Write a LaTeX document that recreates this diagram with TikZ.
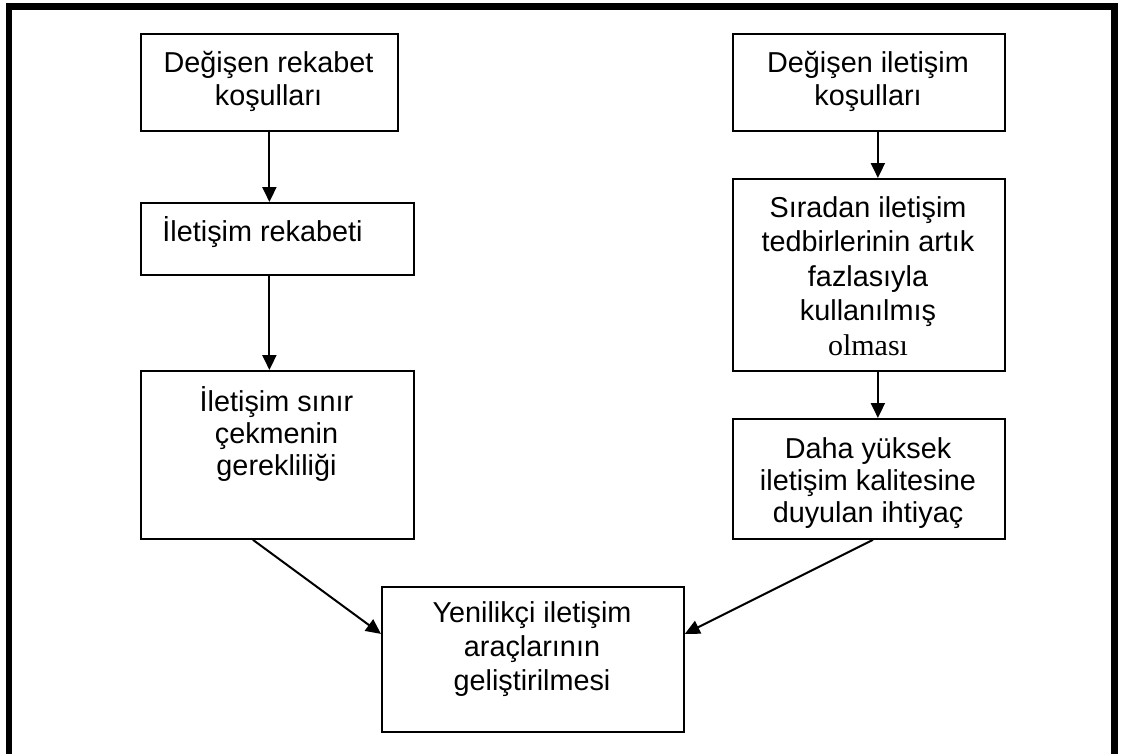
\documentclass[tikz,border=0pt]{standalone}
\usepackage{fontspec}
\setmainfont{Liberation Sans}
\newfontfamily\serifface{Liberation Serif}
\usetikzlibrary{arrows.meta}
\begin{document}
\begin{tikzpicture}[x=1pt,y=-1pt,
  boxnode/.style={draw=black,line width=1.8pt,rectangle,inner sep=0pt,anchor=north west},
  txt/.style={align=center,inner sep=0pt,font=\fontsize{28.8}{33}\selectfont},
  conn/.style={line width=2pt,-{Triangle[length=15pt,width=14pt]}}]
\useasboundingbox (0,0) rectangle (1121,753);
% outer frame
\draw[line width=6.5pt] (9,800) -- (9,6.5) -- (1114.5,6.5) -- (1114.5,800);
% boxes
\node[boxnode,minimum width=257pt,minimum height=97pt] (b1) at (140,33) {};
\node[boxnode,minimum width=273pt,minimum height=72pt] (b2) at (140,202) {};
\node[boxnode,minimum width=273pt,minimum height=168pt] (b3) at (140,370) {};
\node[boxnode,minimum width=272pt,minimum height=97pt] (r1) at (732,33) {};
\node[boxnode,minimum width=272pt,minimum height=192pt] (r2) at (732,178) {};
\node[boxnode,minimum width=272pt,minimum height=120pt] (r3) at (732,418) {};
\node[boxnode,minimum width=302pt,minimum height=145pt] (bb) at (381,586) {};
% texts
\node[txt] (t1) at (268.5,81) {Değişen rekabet\\koşulları};
\node[txt] (t2) at (262.5,232) {İletişim rekabeti};
\node[txt,font=\fontsize{28.8}{32}\selectfont] (t3) at (276.5,434) {İletişim sınır\\çekmenin\\gerekliliği};
\node[txt] (tr1) at (868,81) {Değişen iletişim\\koşulları};
\node[txt,font=\fontsize{28.8}{34.5}\selectfont] (tr2) at (868,276) {Sıradan iletişim\\tedbirlerinin artık\\fazlasıyla\\kullanılmış\\{\serifface\fontsize{30}{34.5}\selectfont olması}};
\node[txt,font=\fontsize{28.8}{32}\selectfont] (tr3) at (868,483) {Daha yüksek\\iletişim kalitesine\\duyulan ihtiyaç};
\node[txt,font=\fontsize{28.8}{34}\selectfont] (tb) at (532,649) {Yenilikçi iletişim\\araçlarının\\geliştirilmesi};
% connectors
\draw[conn] (b1.south) -- (b1.south |- b2.north);
\draw[conn] (b1.south |- b2.south) -- (b1.south |- b3.north);
\draw[conn] ([xshift=9pt]r1.south) -- ([xshift=9pt]r2.north);
\draw[conn] ([xshift=9pt]r2.south) -- ([xshift=9pt]r3.north);
\draw[conn] ([xshift=-24.5pt]b3.south) -- ([yshift=25.5pt]bb.west);
\draw[conn] ([xshift=4pt]r3.south) -- ([yshift=25.5pt]bb.east);
\end{tikzpicture}
\end{document}
